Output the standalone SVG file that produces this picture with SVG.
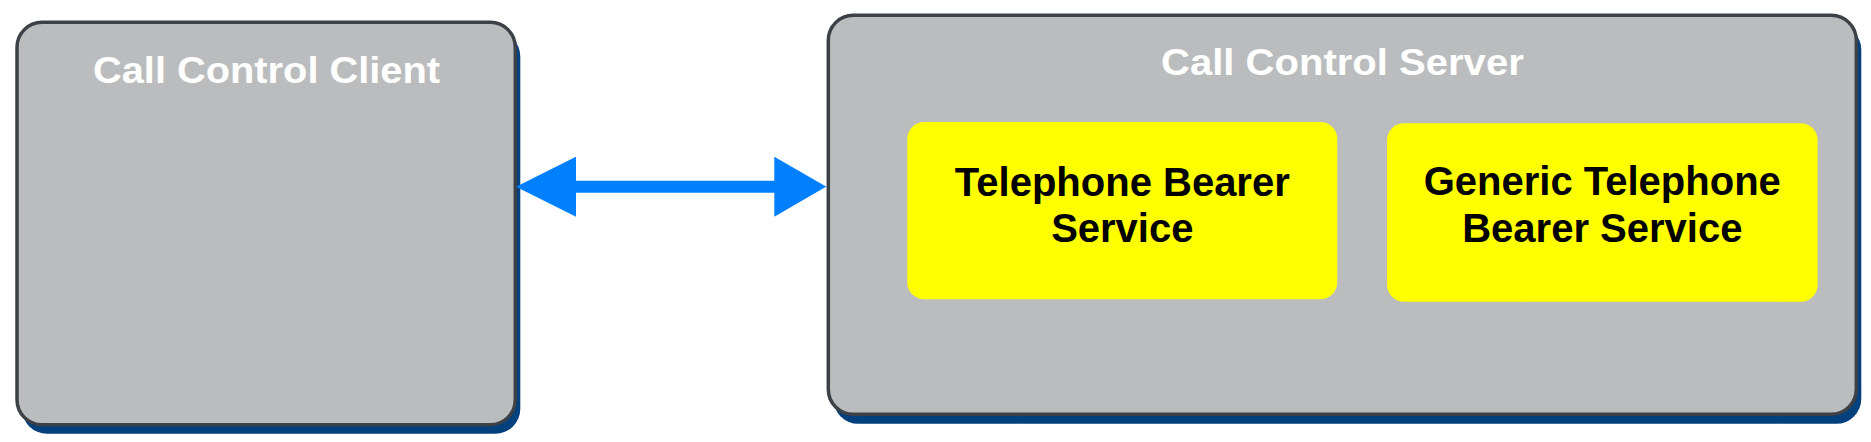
<svg xmlns="http://www.w3.org/2000/svg" width="1871" height="442" viewBox="0 0 1871 442">
  <style>
    .shadow { fill: #02407E; }
    .box { fill: #BBBCBE; stroke: #3C4047; stroke-width: 3.5; }
    .svc { fill: #FFFF00; }
    .title { font-family: "Liberation Sans", Arial, sans-serif; font-weight: bold; font-size: 36px; fill: #FFFFFF; text-anchor: middle; }
    .label { font-family: "Liberation Sans", Arial, sans-serif; font-weight: bold; font-size: 40px; fill: #000000; text-anchor: middle; }
    .conn { stroke: #0080FF; stroke-width: 12; fill: none; }
  </style>
  <defs>
    <marker id="headStart" markerUnits="userSpaceOnUse" markerWidth="60" markerHeight="60" refX="59" refY="30" orient="0" viewBox="0 0 60 60">
      <path d="M0,30 L60,0 L60,60 Z" fill="#0080FF"/>
    </marker>
    <marker id="headEnd" markerUnits="userSpaceOnUse" markerWidth="52" markerHeight="60" refX="1" refY="30" orient="0" viewBox="0 0 52 60">
      <path d="M0,0 L52,30 L0,60 Z" fill="#0080FF"/>
    </marker>
  </defs>

  <g id="client">
    <rect class="shadow" x="22" y="31.3" width="498.3" height="402.4" rx="25" ry="25"/>
    <rect class="box" x="17" y="22.3" width="498.3" height="402.4" rx="25" ry="25"/>
    <text class="title" x="266.5" y="82.7" textLength="347" lengthAdjust="spacingAndGlyphs">Call Control Client</text>
  </g>

  <g id="server">
    <rect class="shadow" x="833.3" y="24.8" width="1028" height="399" rx="25" ry="25"/>
    <rect class="box" x="828.3" y="15.3" width="1028" height="399" rx="25" ry="25"/>
    <text class="title" x="1342.4" y="75" textLength="362.7" lengthAdjust="spacingAndGlyphs">Call Control Server</text>
  </g>

  <g id="tbs">
    <rect class="svc" x="907.3" y="122" width="430" height="177.3" rx="17" ry="17"/>
    <text class="label" x="1122.3" y="195.7">Telephone Bearer</text>
    <text class="label" x="1122.3" y="242.4">Service</text>
  </g>

  <g id="gtbs">
    <rect class="svc" x="1387" y="123.3" width="430.7" height="178.4" rx="17" ry="17"/>
    <text class="label" x="1602.3" y="195">Generic Telephone</text>
    <text class="label" x="1602.3" y="241.7">Bearer Service</text>
  </g>

  <g id="connectors">
    <line class="conn" x1="575" y1="186.7" x2="775.3" y2="186.7" marker-start="url(#headStart)" marker-end="url(#headEnd)"/>
  </g>
</svg>
